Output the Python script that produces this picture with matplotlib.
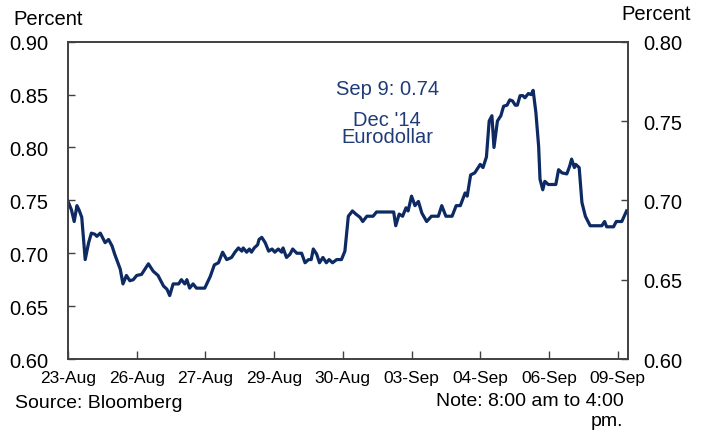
import matplotlib
matplotlib.use("Agg")
import matplotlib.pyplot as plt
from matplotlib.ticker import MultipleLocator

# intraday Dec '14 Eurodollar (time in trading sessions)
sessions = [0.00, 0.05, 0.09, 0.13, 0.16, 0.20, 0.25, 0.30, 0.34, 0.39, 0.42, 0.47,
            0.54, 0.59, 0.64, 0.68, 0.76, 0.80, 0.85, 0.90, 0.95, 1.00, 1.07, 1.17,
            1.24, 1.31, 1.39, 1.44, 1.48, 1.53, 1.61, 1.65, 1.70, 1.73, 1.77, 1.82,
            1.87, 1.99, 2.07, 2.13, 2.19, 2.25, 2.31, 2.38, 2.43, 2.48, 2.53, 2.55,
            2.60, 2.64, 2.67, 2.71, 2.76, 2.78, 2.82, 2.87, 2.92, 2.97, 3.01, 3.06,
            3.11, 3.13, 3.18, 3.23, 3.27, 3.33, 3.40, 3.45, 3.50, 3.54, 3.57, 3.62,
            3.66, 3.71, 3.76, 3.80, 3.85, 3.91, 3.98, 4.03, 4.08, 4.14, 4.19, 4.25,
            4.29, 4.35, 4.44, 4.49, 4.74, 4.77, 4.82, 4.87, 4.92, 4.95, 5.00, 5.05,
            5.10, 5.15, 5.22, 5.29, 5.39, 5.44, 5.50, 5.59, 5.65, 5.71, 5.78, 5.81,
            5.86, 5.92, 6.00, 6.04, 6.09, 6.13, 6.17, 6.20, 6.25, 6.30, 6.34, 6.39,
            6.43, 6.47, 6.51, 6.54, 6.58, 6.62, 6.65, 6.70, 6.74, 6.77, 6.81, 6.85,
            6.87, 6.91, 6.94, 6.99, 7.10, 7.14, 7.19, 7.26, 7.30, 7.33, 7.37, 7.39,
            7.44, 7.48, 7.53, 7.60, 7.77, 7.81, 7.84, 7.94, 7.98, 8.06, 8.13]
rate = [0.749, 0.741, 0.730, 0.745, 0.741, 0.734, 0.694, 0.710, 0.719, 0.718, 0.716, 0.719,
        0.710, 0.713, 0.707, 0.699, 0.685, 0.671, 0.679, 0.674, 0.675, 0.679, 0.680, 0.690,
        0.683, 0.679, 0.669, 0.666, 0.660, 0.671, 0.671, 0.675, 0.671, 0.675, 0.667, 0.671,
        0.667, 0.667, 0.678, 0.689, 0.691, 0.701, 0.694, 0.696, 0.701, 0.705, 0.702, 0.705,
        0.701, 0.704, 0.701, 0.705, 0.708, 0.713, 0.715, 0.710, 0.702, 0.704, 0.701, 0.704,
        0.701, 0.705, 0.696, 0.699, 0.704, 0.700, 0.700, 0.691, 0.694, 0.694, 0.704, 0.699,
        0.691, 0.696, 0.691, 0.694, 0.691, 0.694, 0.694, 0.702, 0.735, 0.740, 0.737, 0.734,
        0.730, 0.735, 0.735, 0.739, 0.739, 0.726, 0.737, 0.735, 0.743, 0.740, 0.754, 0.745,
        0.749, 0.738, 0.730, 0.735, 0.735, 0.745, 0.735, 0.735, 0.745, 0.745, 0.757, 0.754,
        0.774, 0.776, 0.784, 0.781, 0.791, 0.825, 0.830, 0.800, 0.825, 0.830, 0.839, 0.840,
        0.845, 0.844, 0.840, 0.840, 0.849, 0.849, 0.847, 0.851, 0.850, 0.854, 0.833, 0.801,
        0.770, 0.760, 0.768, 0.765, 0.765, 0.779, 0.776, 0.775, 0.782, 0.789, 0.781, 0.784,
        0.781, 0.748, 0.735, 0.726, 0.726, 0.730, 0.725, 0.725, 0.730, 0.730, 0.740]
day_labels = ["23-Aug", "26-Aug", "27-Aug", "29-Aug", "30-Aug",
              "03-Sep", "04-Sep", "06-Sep", "09-Sep"]

NAVY = "#0d2a63"
TEXT_BLUE = "#1f3b78"
NUM_FONT = ["Liberation Sans", "DejaVu Sans"]
NARROW_FONT = ["Liberation Sans Narrow", "Liberation Sans", "DejaVu Sans"]
FS = 14.5

fig = plt.figure(figsize=(7.07, 4.35), dpi=100)
ax = fig.add_axes([0.0962, 0.1724, 0.7920, 0.7294])

ax.plot(sessions, rate, color=NAVY, lw=2.3, solid_joinstyle="round")
ax.set_xlim(0, 8.15)
ax.set_ylim(0.60, 0.90)
ax.yaxis.set_major_locator(MultipleLocator(0.05))
ax.set_xticks(range(len(day_labels)))
ax.set_xticklabels(day_labels, family=NARROW_FONT, fontsize=12.5)
ax.tick_params(axis="x", direction="in", length=6, width=1, color="#404040", pad=8)
ax.tick_params(axis="y", direction="in", length=5, width=1, color="#404040",
               labelsize=FS, pad=14)
for lab in ax.get_yticklabels():
    lab.set_family(NUM_FONT)
ax.yaxis.set_major_formatter(plt.FormatStrFormatter("%.2f"))

ax2 = ax.twinx()
ax2.set_ylim(0.60, 0.80)
ax2.yaxis.set_major_locator(MultipleLocator(0.05))
ax2.yaxis.set_major_formatter(plt.FormatStrFormatter("%.2f"))
ax2.tick_params(axis="y", direction="in", length=5, width=1, color="#404040",
                labelsize=FS, pad=11)
for lab in ax2.get_yticklabels():
    lab.set_family(NUM_FONT)

for a in (ax, ax2):
    for sp in a.spines.values():
        sp.set_color("#404040")
        sp.set_linewidth(1.2)

fig.text(0.019, 0.955, "Percent", fontsize=FS, family=NUM_FONT, ha="left", va="center")
fig.text(0.977, 0.967, "Percent", fontsize=FS, family=NUM_FONT, ha="right", va="center")

ax.text(0.57, 0.854, "Sep 9: 0.74", transform=ax.transAxes, color=TEXT_BLUE,
        fontsize=FS, family=NUM_FONT, ha="center", va="center")
ax.text(0.57, 0.728, "Dec '14\nEurodollar", transform=ax.transAxes, color=TEXT_BLUE,
        fontsize=FS, family=NUM_FONT, ha="center", va="center", linespacing=0.92)

fig.text(0.021, 0.073, "Source: Bloomberg", fontsize=14, family=NARROW_FONT,
         ha="left", va="center")
fig.text(0.882, 0.054, "Note: 8:00 am to 4:00\npm.", fontsize=14, family=NARROW_FONT,
         ha="right", va="center", multialignment="right", linespacing=1.25)

fig.savefig("out.png", dpi=100)
